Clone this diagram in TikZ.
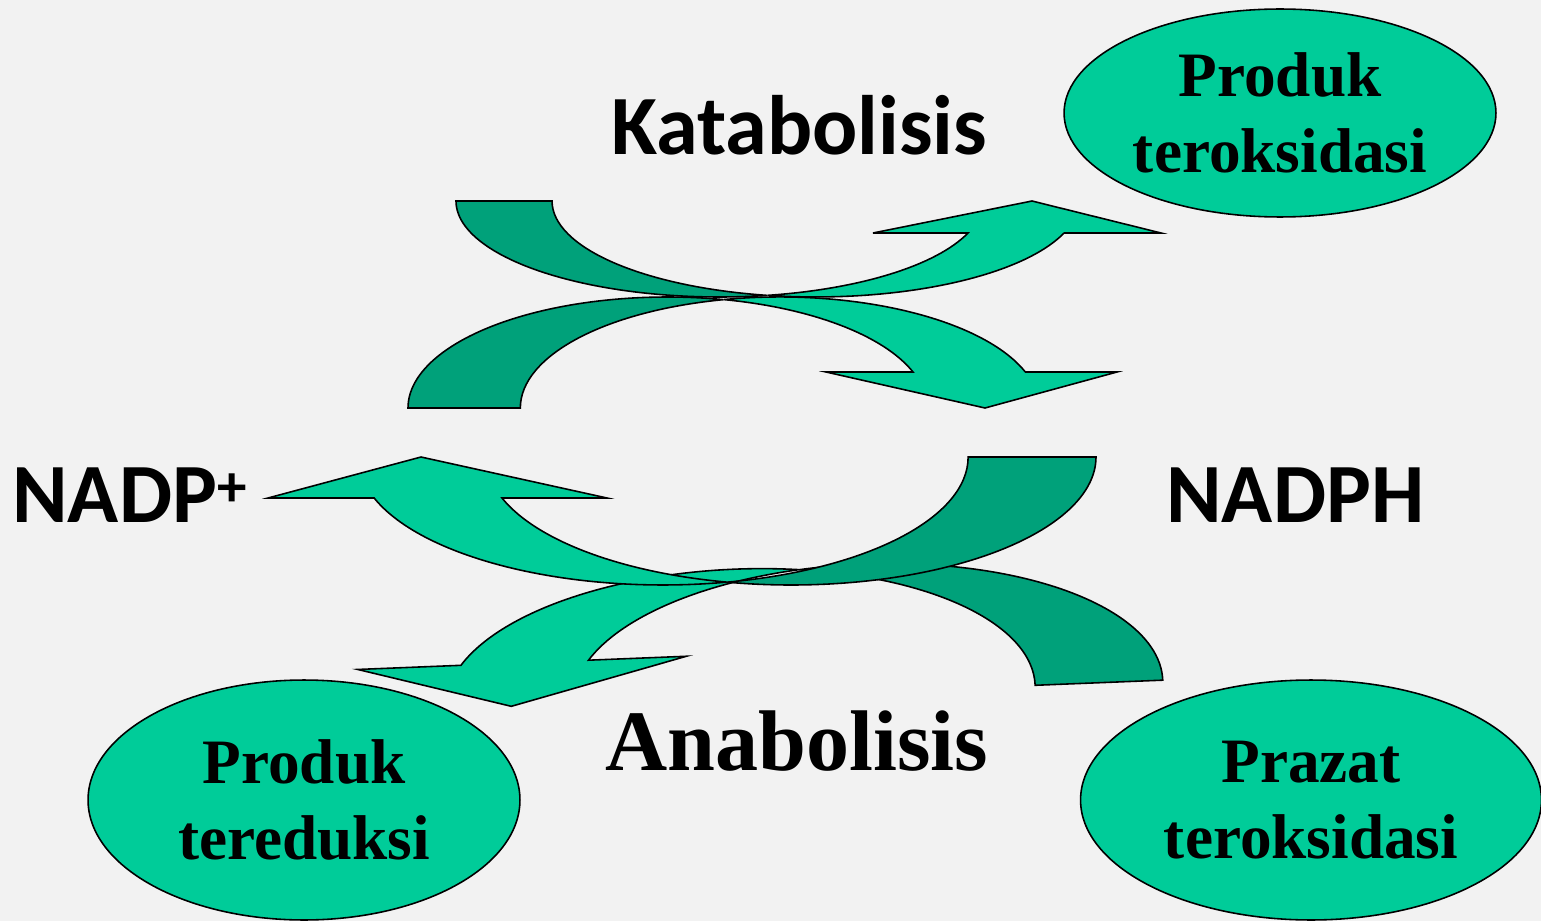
\documentclass[tikz,border=0pt]{standalone}
\usepackage{fontspec}
\setmainfont{Liberation Serif}
\newfontfamily\calibri{Carlito}
\usetikzlibrary{shapes.geometric}

\begin{document}
\begin{tikzpicture}[x=0.02cm, y=0.02cm]

\definecolor{latar}{RGB}{242,242,242}
\definecolor{hijaut}{RGB}{0,161,122}
\definecolor{hijaum}{RGB}{0,204,153}

\tikzset{
  panahm/.style={fill=hijaum, draw=black, line width=0.9pt},
  panaht/.style={fill=hijaut, draw=black, line width=0.9pt},
  elips/.style={ellipse, fill=hijaum, draw=black, line width=0.9pt, inner sep=0pt,
    align=center, font=\bfseries\fontsize{36}{43}\selectfont},
  judulsans/.style={inner sep=0pt, font=\calibri\bfseries\fontsize{48}{58}\selectfont},
  judulserif/.style={inner sep=0pt, font=\bfseries\fontsize{49}{58}\selectfont},
}

% Latar belakang
\fill[latar] (0,0) rectangle (1541,921);
\useasboundingbox (0,0) rectangle (1541,921);

% === PANAH KATABOLISIS (atas) ===
\draw[panaht] (456,720)
  arc[start angle=180, end angle=280.5, x radius=263.5, y radius=96]
  arc[start angle=259.5, end angle=180, x radius=263.5, y radius=96] -- cycle;
\draw[panahm] (1064,688) -- (1161,688) -- (1032,720) -- (873,688) -- (968,688)
  arc[start angle=340.5, end angle=280.5, x radius=263.5, y radius=96]
  arc[start angle=259.5, end angle=340.5, x radius=263.5, y radius=96] -- cycle;

% === PANAH KE NADPH ===
\draw[panaht] (408,513)
  arc[start angle=180, end angle=77.5, x radius=259.5, y radius=111]
  arc[start angle=102.5, end angle=180, x radius=259.5, y radius=111] -- cycle;
\draw[panahm] (1025,549) -- (1117,549) -- (985,513) -- (826,549) -- (913,549)
  arc[start angle=18.9, end angle=77.5, x radius=259.5, y radius=111]
  arc[start angle=102.5, end angle=18.9, x radius=259.5, y radius=111] -- cycle;

% === PANAH ANABOLISIS (bawah) ===
\begin{scope}[shift={(868,229)}, rotate=2.3]
\draw[panaht] (295,0)
  arc[start angle=0, end angle=102.5, x radius=295, y radius=128]
  arc[start angle=77.5, end angle=0, x radius=295, y radius=128] -- cycle;
\draw[panahm] (-406,43) -- (-509,43) -- (-357,0) -- (-180,43) -- (-278,43)
  arc[start angle=160.4, end angle=102.5, x radius=295, y radius=128]
  arc[start angle=77.5, end angle=160.4, x radius=295, y radius=128] -- cycle;
\end{scope}

% === PANAH KE NADP+ ===
\draw[panaht] (1096,464)
  arc[start angle=360, end angle=257.9, x radius=305, y radius=128]
  arc[start angle=282.1, end angle=360, x radius=305, y radius=128] -- cycle;
\draw[panahm] (374,423) -- (268,423) -- (421,464) -- (607,423) -- (502,423)
  arc[start angle=198.7, end angle=257.9, x radius=305, y radius=128]
  arc[start angle=282.1, end angle=198.7, x radius=305, y radius=128] -- cycle;

% === ELIPS ===
\node[elips, minimum width=8.64cm, minimum height=4.16cm] (produkok) at (1280,808)
  {Produk\\teroksidasi};
\node[elips, minimum width=8.64cm, minimum height=4.8cm] (produkred) at (304,121)
  {Produk\\tereduksi};
\node[elips, minimum width=9.22cm, minimum height=4.8cm] (prazatok) at (1311,121)
  {Prazat\\teroksidasi};

% === TEKS ===
\node[judulsans, anchor=base] (katabolisis) at (799,766) {Katabolisis};
\node[judulserif, anchor=base] (anabolisis) at (797,151) {Anabolisis};
\node[judulsans, anchor=base west] (nadp) at (12,399) {NADP\textsuperscript{+}};
\node[judulsans, anchor=base west] (nadph) at (1166,399) {NADPH};

\end{tikzpicture}
\end{document}
